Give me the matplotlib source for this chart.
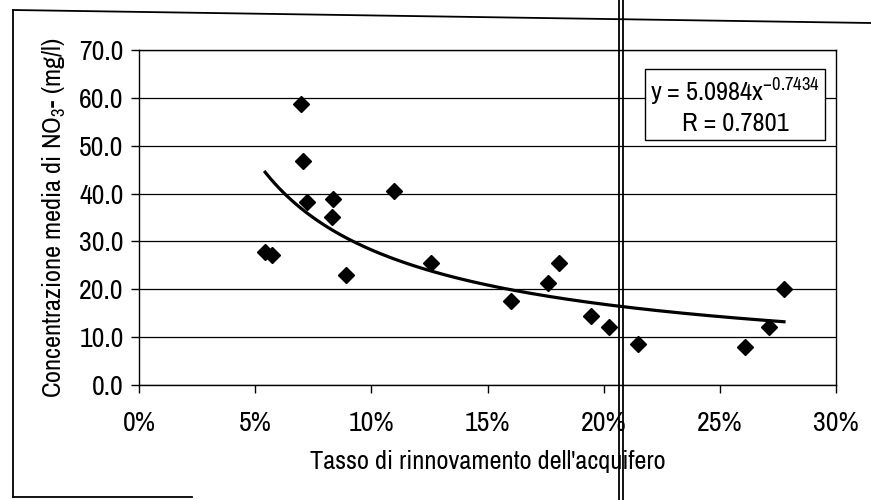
import numpy as np
import matplotlib
matplotlib.use("Agg")
import matplotlib.pyplot as plt
from matplotlib.lines import Line2D
from matplotlib.ticker import FuncFormatter

# tasso di rinnovamento (fraction) vs concentrazione NO3- (mg/l)
rinnovo = [0.0543, 0.0573, 0.0698, 0.0707, 0.0724, 0.0836, 0.0832, 0.0892,
           0.1099, 0.1257, 0.1603, 0.1759, 0.1806, 0.1947, 0.2022, 0.2147,
           0.2608, 0.2711, 0.2776]
nitrati = [27.8, 27.2, 58.7, 46.8, 38.2, 38.9, 35.1, 23.0,
           40.5, 25.5, 17.6, 21.3, 25.4, 14.4, 12.1, 8.6,
           7.9, 12.1, 20.1]

# power trendline as reported on the chart
coef_a = 5.0984
coef_b = -0.7434
r_val = 0.7801

plt.rcParams['font.family'] = ['Archivo Narrow', 'DejaVu Sans']
plt.rcParams['mathtext.fontset'] = 'custom'
plt.rcParams['mathtext.rm'] = 'Archivo Narrow'
plt.rcParams['mathtext.it'] = 'Archivo Narrow'

fig = plt.figure(figsize=(8.71, 5.0), dpi=100)
ax = fig.add_axes([139 / 871, 1 - 385 / 500, 697 / 871, 335 / 500])

ax.yaxis.grid(True, color='black', linewidth=0.9)
ax.set_axisbelow(True)

ax.plot(rinnovo, nitrati, linestyle='none', marker='D', markersize=8.5,
        color='black', zorder=3)

xt = np.linspace(min(rinnovo), max(rinnovo), 200)
ax.plot(xt, coef_a * xt ** coef_b, color='black', linewidth=2.3, zorder=2)

ax.set_xlim(0, 0.30)
ax.set_ylim(0, 70)
ax.set_xticks(np.arange(0, 0.301, 0.05))
ax.set_yticks(np.arange(0, 70.1, 10))
ax.xaxis.set_major_formatter(FuncFormatter(lambda v, p: f"{v * 100:.0f}%"))
ax.yaxis.set_major_formatter(FuncFormatter(lambda v, p: f"{v:.1f}"))
ax.tick_params(axis='both', labelsize=20, length=6, width=1, direction='out', color='black')
ax.tick_params(axis='x', pad=13)
ax.tick_params(axis='y', pad=5)
for s in ax.spines.values():
    s.set_color('black')
    s.set_linewidth(1)

ax.set_xlabel("Tasso di rinnovamento dell'acquifero", fontsize=19, labelpad=10)
ax.set_ylabel("Concentrazione media di NO$_3$- (mg/l)", fontsize=19, labelpad=8)

ax.text(0.2565, 58.4, "y = %.4fx$^{%.4f}$\nR = %.4f" % (coef_a, coef_b, r_val),
        ha='center', va='center', fontsize=19, linespacing=1.2, zorder=5,
        bbox=dict(boxstyle='square,pad=0.2', facecolor='white', edgecolor='black', linewidth=1))

# chart area border and the scan fold line
def px(x, y):
    return x / 871, 1 - y / 500
for (x0, y0), (x1, y1) in [((13, 10), (871, 23)), ((13, 10), (13, 497)),
                           ((13, 497), (192, 497)), ((619, 0), (619, 500)),
                           ((623, 0), (623, 500))]:
    a, b = px(x0, y0)
    c, d = px(x1, y1)
    fig.add_artist(Line2D([a, c], [b, d], color='black', linewidth=1.3))

fig.savefig("out.png", dpi=100, facecolor='white')
